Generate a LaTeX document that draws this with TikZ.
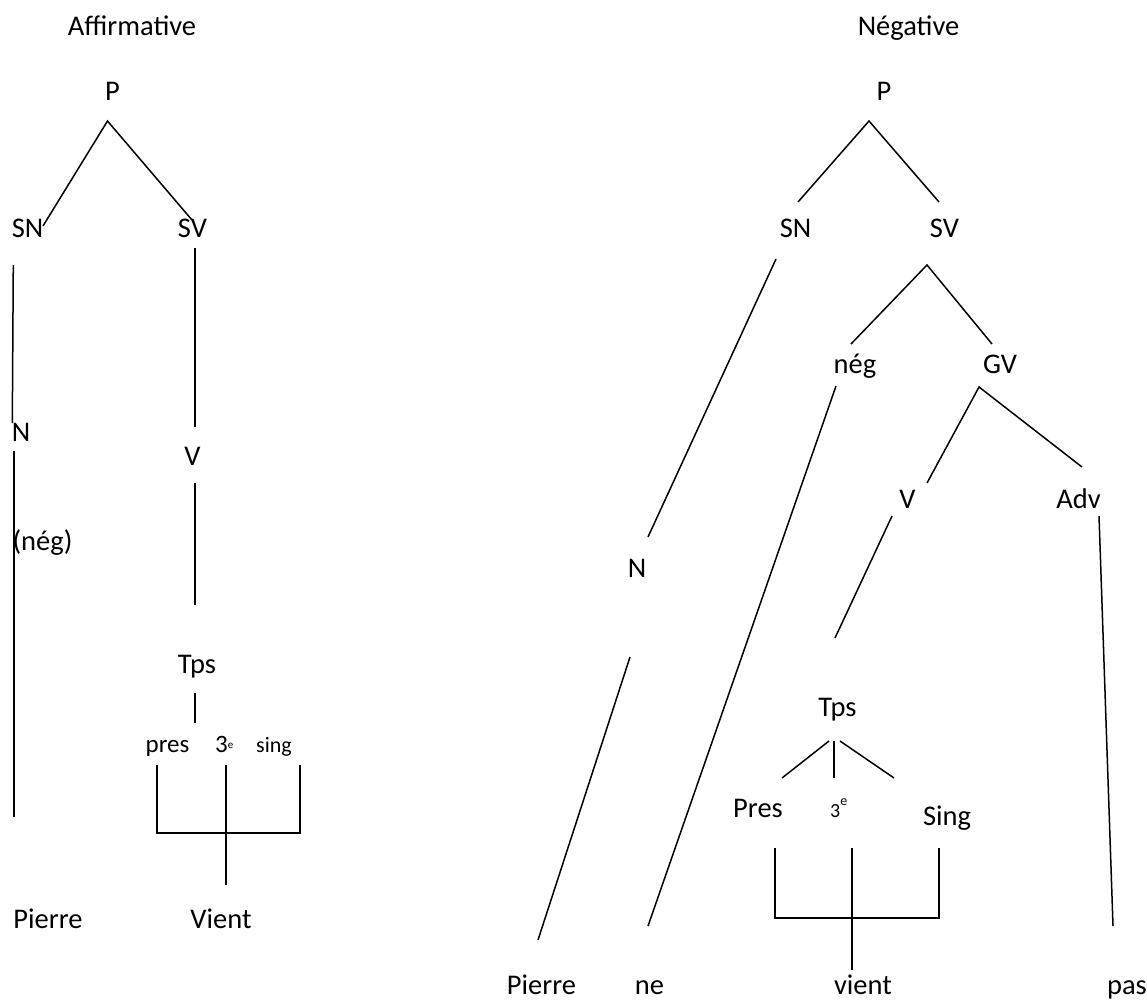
\documentclass[tikz,border=0pt]{standalone}
\usepackage{fontspec}
\setmainfont{Carlito}
\begin{document}
\begin{tikzpicture}[x=1pt, y=-1pt,
  edge/.style={draw=black, line width=1.5pt},
  lbl/.style={anchor=base, inner sep=0pt, font=\fontsize{28.5}{34}\selectfont},
  lblsm/.style={anchor=base, inner sep=0pt, font=\fontsize{25}{30}\selectfont},
  lblxs/.style={anchor=base, inner sep=0pt, font=\fontsize{22}{26}\selectfont}]
\useasboundingbox (0,0) rectangle (1147,999);

% ---------------- Affirmative tree ----------------
\node[lbl] (tA) at (132,35) {Affirmative};
\node[lbl] (aP) at (112.5,100) {P};
\node[lbl] (aSN) at (27.5,237) {SN};
\node[lbl] (aSV) at (192.5,237) {SV};
\node[lbl] (aN) at (21,441) {N};
\node[lbl] (aNeg) at (42.5,550) {(nég)};
\node[lbl] (aV) at (192.5,465) {V};
\node[lbl] (aTps) at (197,673) {Tps};
\node[lblsm] (aPres) at (167.5,752) {pres};
\node[lblsm, anchor=base west] (aTrois) at (215,752) {3\raisebox{4pt}{\fontsize{11}{12}\selectfont e}};
\node[lblxs] (aSing) at (274,752) {sing};
\node[lbl] (aPierre) at (48,928) {Pierre};
\node[lbl] (aVient) at (221,928) {Vient};

\coordinate (aPtop) at (107.5,121);
\coordinate (aSNe) at (43,226);
\coordinate (aSVe) at (192,220);
\coordinate (aSNb) at (13.3,265);
\coordinate (aNt) at (12.3,423);
\coordinate (aNb) at (14,451);
\coordinate (aPi) at (14,817);
\coordinate (aSVb) at (195,248);
\coordinate (aVt) at (195,427);
\coordinate (aVb) at (195,483);
\coordinate (aTt) at (195,605);
\coordinate (aTb) at (195,693);
\coordinate (aMt) at (195,723);
\coordinate (aL1) at (157,765);
\coordinate (aL2) at (157,833);
\coordinate (aM1) at (226,765);
\coordinate (aM2) at (226,885);
\coordinate (aR1) at (300,765);
\coordinate (aR2) at (300,833);

\draw[edge] (aSNe) -- (aPtop) -- (aSVe);
\draw[edge] (aSNb) -- (aNt);
\draw[edge] (aNb) -- (aPi);
\draw[edge] (aSVb) -- (aVt);
\draw[edge] (aVb) -- (aTt);
\draw[edge] (aTb) -- (aMt);
\draw[edge] (aL1) -- (aL2) -- (aR2) -- (aR1);
\draw[edge] (aM1) -- (aM2);

% ---------------- Négative tree ----------------
\node[lbl] (tN) at (908.5,35) {Négative};
\node[lbl] (nP) at (884,100) {P};
\node[lbl] (nSN) at (795.5,237) {SN};
\node[lbl] (nSV) at (944.5,237) {SV};
\node[lbl] (nNeg) at (855,373) {nég};
\node[lbl] (nGV) at (1000,373) {GV};
\node[lbl] (nV) at (907.5,508) {V};
\node[lbl] (nAdv) at (1078.5,508) {Adv};
\node[lbl] (nN) at (637,577) {N};
\node[lbl] (nTps) at (837.5,716) {Tps};
\node[lbl] (nPres) at (758,817) {Pres};
\node[anchor=base west, inner sep=0pt, font=\fontsize{20}{24}\selectfont] (nTrois) at (830,817) {3\raisebox{12pt}{\fontsize{14}{16}\selectfont e}};
\node[lbl] (nSing) at (947,825) {Sing};
\node[lbl] (nPierre) at (541.5,994) {Pierre};
\node[lbl] (nNe) at (649.5,994) {ne};
\node[lbl] (nVient) at (863,994) {vient};
\node[lbl] (nPas) at (1127,994) {pas};

\coordinate (nPtop) at (869,121);
\coordinate (nSNe) at (798,202);
\coordinate (nSVe) at (939,202);
\coordinate (nSNb) at (776,259);
\coordinate (nNt) at (648,537);
\coordinate (nNb) at (630,657);
\coordinate (nPi) at (538,940);
\coordinate (nSVtop) at (927,265);
\coordinate (nNegt) at (851,344);
\coordinate (nGVt) at (992,344);
\coordinate (nNegb) at (836,386);
\coordinate (nNee) at (648,926);
\coordinate (nGVtop) at (979,387);
\coordinate (nVt) at (927,483);
\coordinate (nAdvt) at (1082,467);
\coordinate (nVb) at (892,516);
\coordinate (nTt) at (835,638);
\coordinate (nAdvb) at (1099,516);
\coordinate (nPase) at (1113,926);
\coordinate (nTl) at (829,741);
\coordinate (nTm) at (834,741);
\coordinate (nTr) at (840,741);
\coordinate (nPrt) at (782,778);
\coordinate (nTrt) at (834,778);
\coordinate (nSgt) at (894,778);
\coordinate (nL1) at (775,848);
\coordinate (nL2) at (775,918);
\coordinate (nM1) at (852,848);
\coordinate (nM2) at (852,970);
\coordinate (nR1) at (939,848);
\coordinate (nR2) at (939,918);

\draw[edge] (nSNe) -- (nPtop) -- (nSVe);
\draw[edge] (nSNb) -- (nNt);
\draw[edge] (nNb) -- (nPi);
\draw[edge] (nNegt) -- (nSVtop) -- (nGVt);
\draw[edge] (nNegb) -- (nNee);
\draw[edge] (nVt) -- (nGVtop) -- (nAdvt);
\draw[edge] (nVb) -- (nTt);
\draw[edge] (nAdvb) -- (nPase);
\draw[edge] (nTl) -- (nPrt);
\draw[edge] (nTm) -- (nTrt);
\draw[edge] (nTr) -- (nSgt);
\draw[edge] (nL1) -- (nL2) -- (nR2) -- (nR1);
\draw[edge] (nM1) -- (nM2);
\end{tikzpicture}
\end{document}
